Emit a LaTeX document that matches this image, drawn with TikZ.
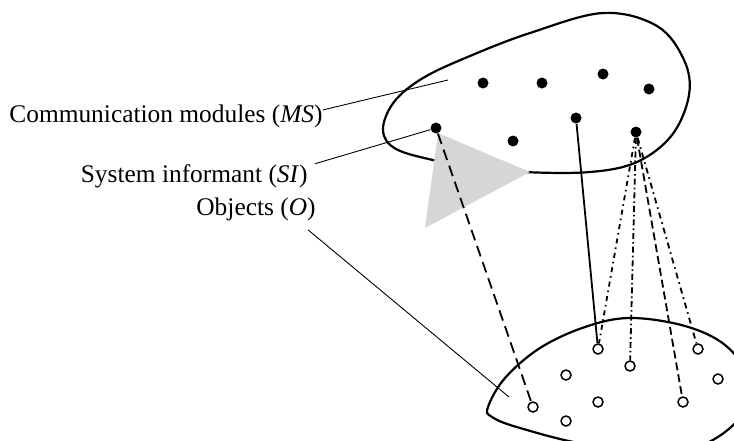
\documentclass[tikz,border=0pt]{standalone}
\usepackage{fontspec}
\setmainfont{Liberation Serif}
\begin{document}
\begin{tikzpicture}[x=0.5pt,y=-0.5pt,
  module/.style={circle,fill=black,inner sep=0pt,minimum size=5.5pt},
  object/.style={circle,draw=black,fill=white,line width=0.75pt,inner sep=0pt,minimum size=5pt},
  blob/.style={line width=1.1pt},
  leader/.style={line width=0.45pt},
  link/.style={line width=0.9pt},
  labeltext/.style={inner sep=0pt,anchor=base east,font=\fontsize{12.7}{15}\selectfont}]
  \colorlet{wedgegray}{black!16}
  \useasboundingbox (0,0) rectangle (734,440);

  \draw[blob] plot[smooth cycle,tension=0.6] coordinates {(383,130) (394,102) (423,78) (470,56) (530,33)
    (603,13) (657,26) (684,60) (689,95) (672,135) (637,162) (590,172) (523,172) (470,167) (437,161) (396,149)};
  \fill[wedgegray] (438,133) -- (530,172) -- (425,228) -- cycle;
  \begin{scope}
    \clip (0,0) rectangle (734,440);
    \draw[blob] plot[smooth cycle,tension=0.6] coordinates {(488,407) (505,378) (540,348) (585,327) (630,318)
      (685,326) (725,345) (745,375) (738,420) (680,452) (590,445) (520,428) (492,417)};
  \end{scope}

  \node[module] (si) at (436,128) {};
  \node[module] (m1) at (483,83) {};
  \node[module] (m2) at (542,83) {};
  \node[module] (m3) at (603,74) {};
  \node[module] (m4) at (649,89) {};
  \node[module] (m5) at (513,141) {};
  \node[module] (m6) at (576,118) {};
  \node[module] (m7) at (636,132) {};

  \foreach \n/\x/\y in {1/533/407,2/566/375,3/566/421,4/598/349,5/598/402,
                        6/630/366,7/698/349,8/718/379,9/683/402}
    \node[object] (o\n) at (\x,\y) {};

  \draw[link,dash pattern=on 5.5pt off 3pt] (si) -- (o1);
  \draw[link] (m6) -- (o4);
  \draw[link,dash pattern=on 2.5pt off 2pt on 0.8pt off 2pt] (m7) -- (o4);
  \draw[link,dash pattern=on 3pt off 1.5pt on 0.8pt off 1.5pt] (m7) -- (o6);
  \draw[link,dash pattern=on 4pt off 2pt] (m7) -- (o9);
  \draw[link,dash pattern=on 3pt off 2pt on 0.8pt off 2pt] (m7) -- (o7);

  \node[labeltext] (ms) at (323,122) {Communication modules (\textit{MS})};
  \node[labeltext] (sit) at (308,182) {System informant (\textit{SI})};
  \node[labeltext] (obj) at (316,215) {Objects (\textit{O})};
  \coordinate (msp) at (448,80);
  \coordinate (objp) at (509,397);

  \draw[leader] ([yshift=3pt]ms.east) -- (msp);
  \draw[leader] ([xshift=3.5pt]sit.north east) -- (si);
  \draw[leader] ([xshift=-4pt,yshift=-4.5pt]obj.south east) -- (objp);
\end{tikzpicture}
\end{document}
